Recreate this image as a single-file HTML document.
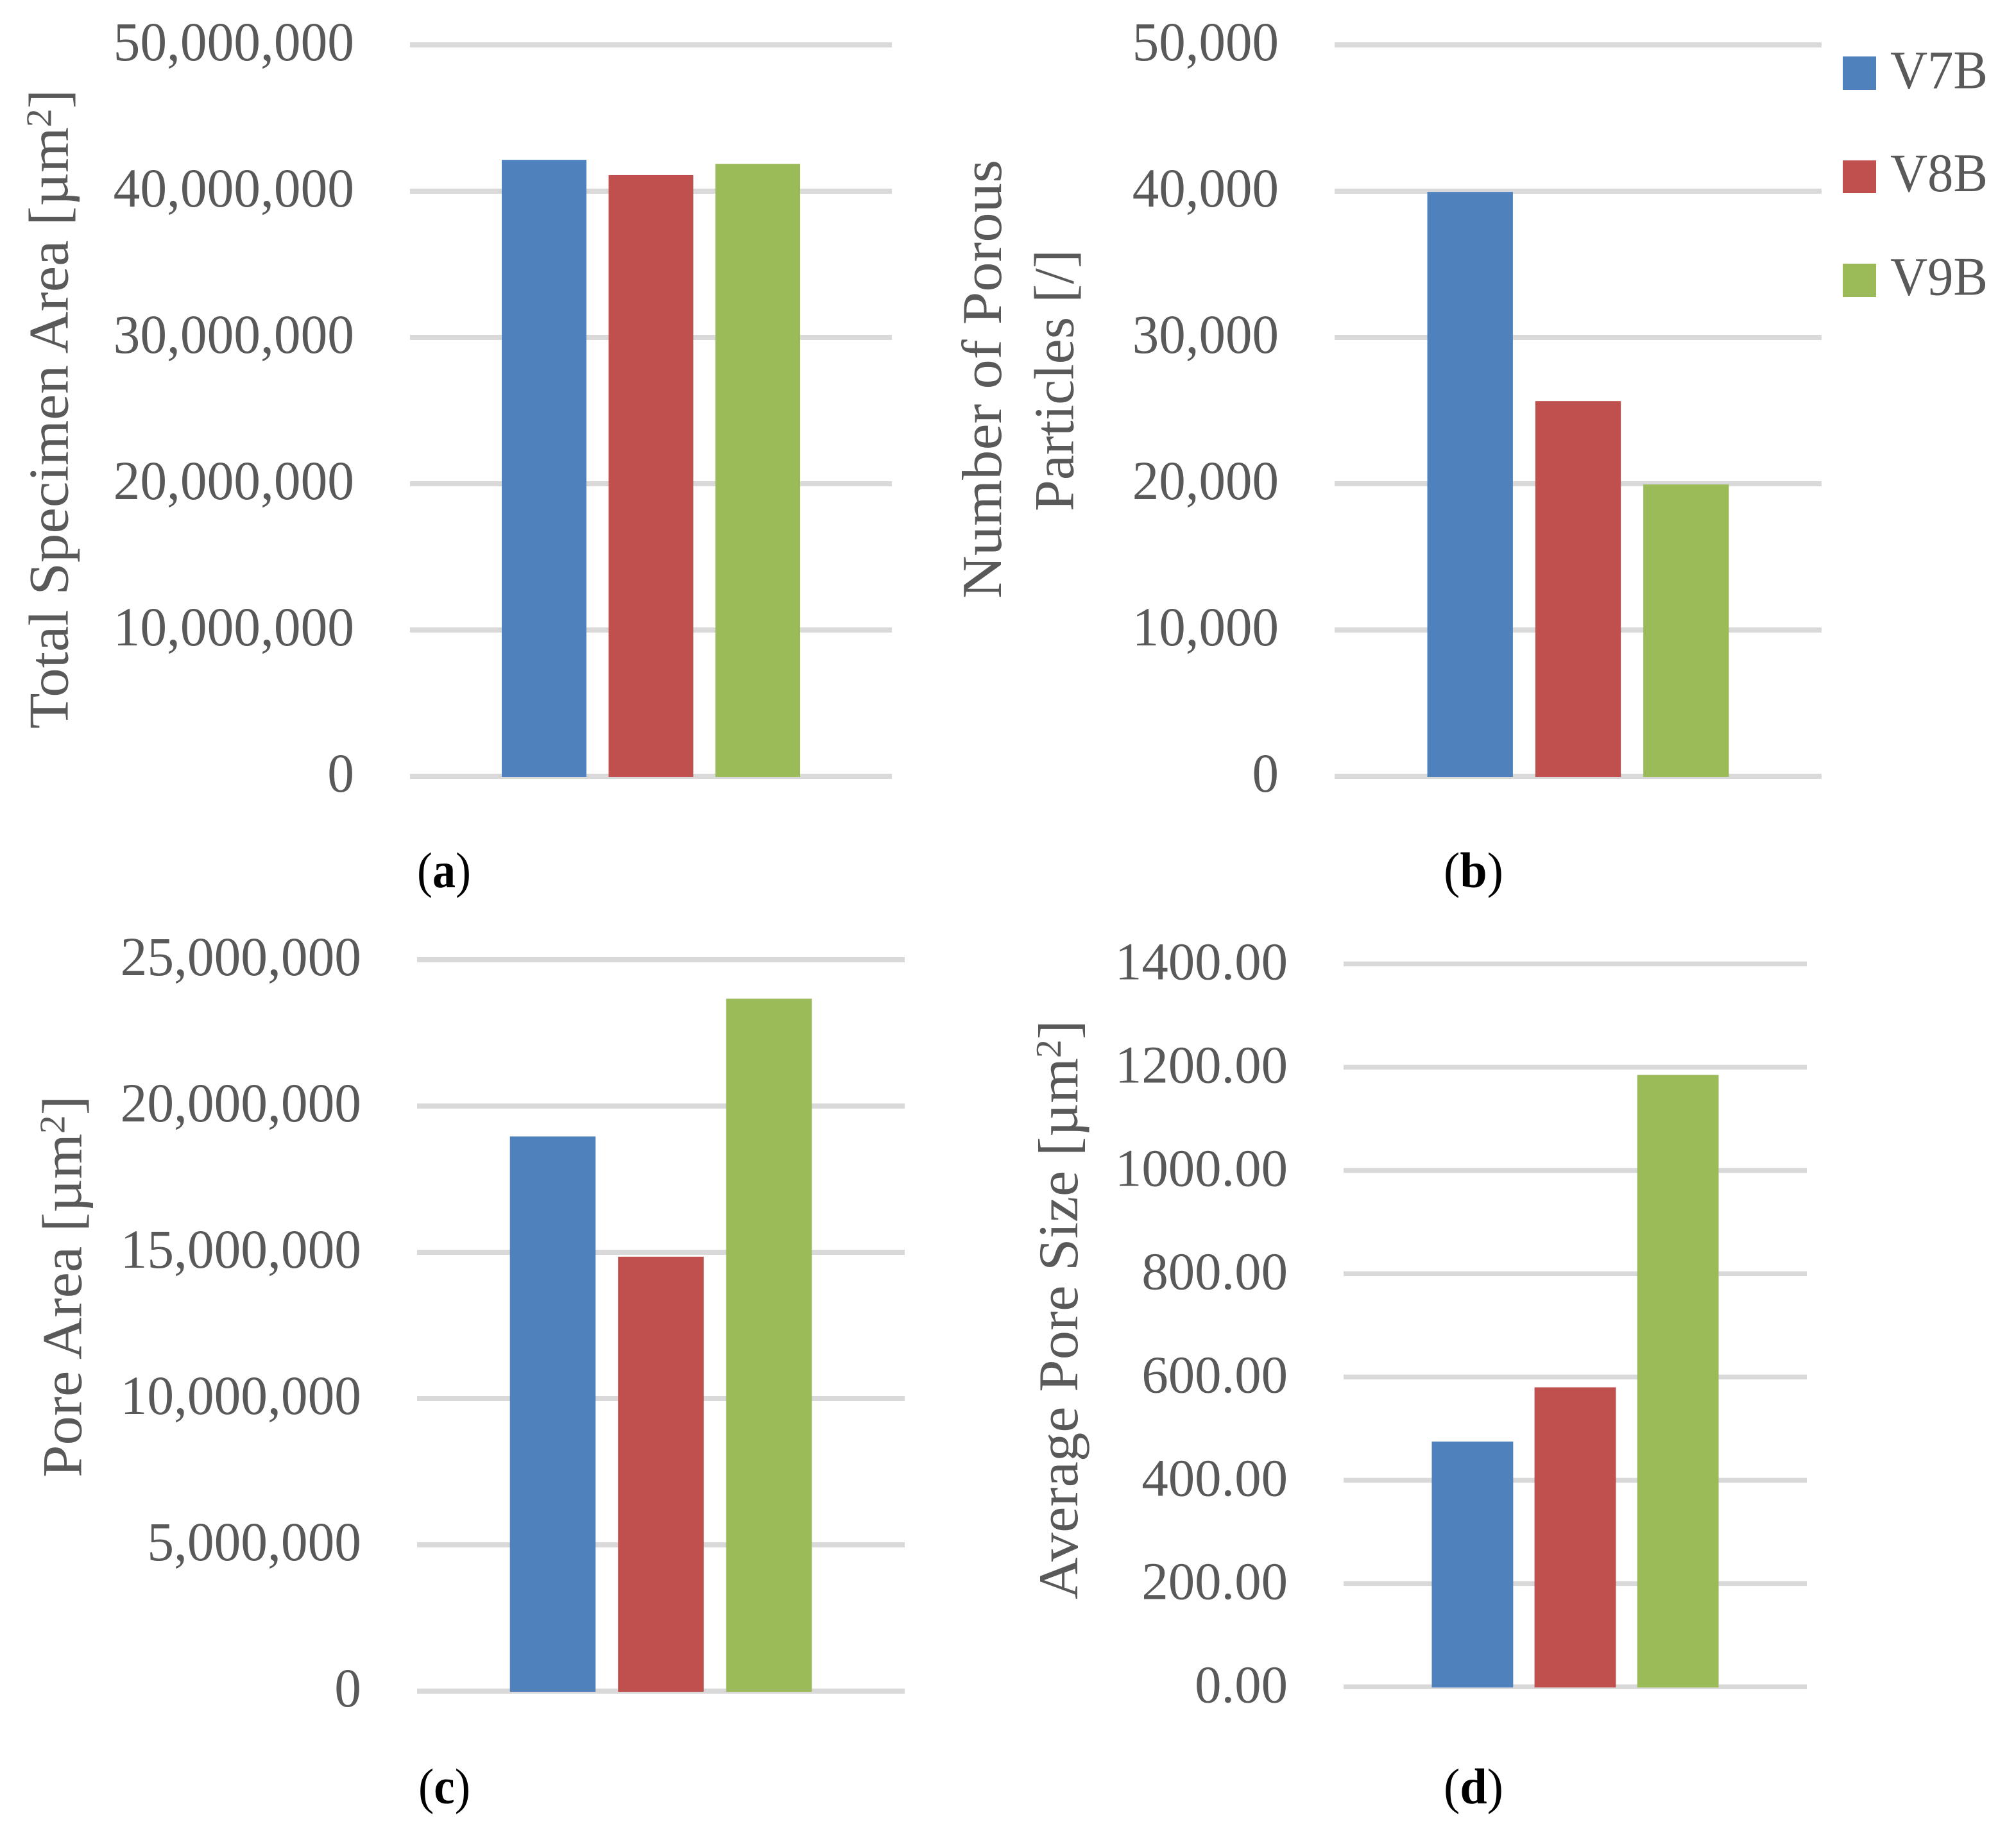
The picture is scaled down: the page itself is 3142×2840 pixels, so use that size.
<!DOCTYPE html>
<html lang="en">
<head>
<meta charset="utf-8">
<title>Specimen area and porosity bar charts</title>
<style>
html,body{margin:0;padding:0;background:#fff;width:3142px;height:2840px;overflow:hidden}
svg{display:block;font-family:"Liberation Serif","DejaVu Serif",serif}
.tick{fill:#595959;text-anchor:end}
.title{font-size:88px;fill:#595959}
.legend{font-size:85px;fill:#595959}
.cap{font-size:78px;fill:#000}
.cap .b{font-weight:bold}
</style>
</head>
<body>
<svg id="figure" xmlns="http://www.w3.org/2000/svg" width="3142" height="2840" viewBox="0 0 3142 2840">
  <rect x="0" y="0" width="3142" height="2840" fill="#ffffff"/>

  <g id="panel-a"></g>
  <g id="panel-b"></g>
  <g id="panel-c"></g>
  <g id="panel-d"></g>

  <text class="title" transform="translate(105.5,1136) rotate(-90)" textLength="997" lengthAdjust="spacingAndGlyphs">Total Specimen Area [µm<tspan font-size="56" dy="-26">2</tspan><tspan dy="26">]</tspan></text>
  <text class="title" transform="translate(1560,933) rotate(-90)" textLength="684" lengthAdjust="spacingAndGlyphs">Number of Porous</text>
  <text class="title" transform="translate(1672.5,797) rotate(-90)" textLength="408" lengthAdjust="spacingAndGlyphs">Particles [/]</text>
  <text class="title" transform="translate(126.5,2303) rotate(-90)" textLength="595" lengthAdjust="spacingAndGlyphs">Pore Area [µm<tspan font-size="56" dy="-26">2</tspan><tspan dy="26">]</tspan></text>
  <text class="title" transform="translate(1679,2493) rotate(-90)" textLength="903" lengthAdjust="spacingAndGlyphs">Average Pore Size [µm<tspan font-size="56" dy="-26">2</tspan><tspan dy="26">]</tspan></text>

  <text class="cap" x="650" y="1383" textLength="84" lengthAdjust="spacingAndGlyphs">(<tspan class="b">a</tspan>)</text>
  <text class="cap" x="2250" y="1383" textLength="93" lengthAdjust="spacingAndGlyphs">(<tspan class="b">b</tspan>)</text>
  <text class="cap" x="652" y="2811" textLength="81" lengthAdjust="spacingAndGlyphs">(<tspan class="b">c</tspan>)</text>
  <text class="cap" x="2250" y="2811" textLength="93" lengthAdjust="spacingAndGlyphs">(<tspan class="b">d</tspan>)</text>

  <g>
    <g>
      <rect x="2872" y="88" width="52" height="52" fill="#4f81bd"/>
      <text class="legend" x="2946" y="137.5" textLength="152" lengthAdjust="spacingAndGlyphs">V7B</text>
    </g>
    <g>
      <rect x="2872" y="250" width="52" height="51" fill="#c0504d"/>
      <text class="legend" x="2946" y="298" textLength="152" lengthAdjust="spacingAndGlyphs">V8B</text>
    </g>
    <g>
      <rect x="2872" y="411" width="52" height="52" fill="#9bbb59"/>
      <text class="legend" x="2946" y="459.5" textLength="152" lengthAdjust="spacingAndGlyphs">V9B</text>
    </g>
  </g>
</svg>

<script>
const categories = ['V7B', 'V8B', 'V9B'];
const seriesColors = ['#4f81bd', '#c0504d', '#9bbb59'];

const panelAValues = [42140000, 41100000, 41860000];
const panelATicks = [0, 10000000, 20000000, 30000000, 40000000, 50000000];
const panelATickLabels = ['0', '10,000,000', '20,000,000', '30,000,000', '40,000,000', '50,000,000'];

const panelBValues = [39950, 25650, 19950];
const panelBTicks = [0, 10000, 20000, 30000, 40000, 50000];
const panelBTickLabels = ['0', '10,000', '20,000', '30,000', '40,000', '50,000'];

const panelCValues = [18960000, 14850000, 23670000];
const panelCTicks = [0, 5000000, 10000000, 15000000, 20000000, 25000000];
const panelCTickLabels = ['0', '5,000,000', '10,000,000', '15,000,000', '20,000,000', '25,000,000'];

const panelDValues = [475, 580, 1185];
const panelDTicks = [0, 200, 400, 600, 800, 1000, 1200, 1400];
const panelDTickLabels = ['0.00', '200.00', '400.00', '600.00', '800.00', '1000.00', '1200.00', '1400.00'];

const SVG_NS = 'http://www.w3.org/2000/svg';

function drawPanel(id, box, values, ticks, tickLabels) {
  const group = document.getElementById(id);
  const axisMax = ticks[ticks.length - 1];
  const yScale = function (v) { return box.bottom - (v / axisMax) * (box.bottom - box.top); };
  const plotWidth = box.right - box.left;
  const barWidth = plotWidth * 0.1757;
  const barStep = barWidth * 1.262;
  const center = (box.left + box.right) / 2;
  const xScale = function (i) { return center + (i - (values.length - 1) / 2) * barStep - barWidth / 2; };

  ticks.forEach(function (tick, i) {
    const line = document.createElementNS(SVG_NS, 'line');
    
    
    line.setAttribute('x1', box.left);
    line.setAttribute('x2', box.right);
    line.setAttribute('y1', yScale(tick));
    line.setAttribute('y2', yScale(tick));
    line.setAttribute('stroke', '#d9d9d9');
    line.setAttribute('stroke-width', box.grid);
    group.appendChild(line);

    const label = document.createElementNS(SVG_NS, 'text');
    
    
    label.setAttribute('class', 'tick');
    label.setAttribute('font-size', box.tickFont);
    label.setAttribute('x', box.left - 87);
    label.setAttribute('y', yScale(tick) + 24);
    label.textContent = tickLabels[i];
    group.appendChild(label);
    label.setAttribute('textLength', label.getComputedTextLength() * box.tickSqueeze);
    label.setAttribute('lengthAdjust', 'spacingAndGlyphs');
  });

  values.forEach(function (value, i) {
    const bar = document.createElementNS(SVG_NS, 'rect');
    
    
    bar.setAttribute('x', xScale(i));
    bar.setAttribute('y', yScale(value));
    bar.setAttribute('width', barWidth);
    bar.setAttribute('height', yScale(0) - yScale(value) + 1);
    bar.setAttribute('fill', seriesColors[i]);
    group.appendChild(bar);
  });
}

drawPanel('panel-a', { left: 639, right: 1390, top: 70, bottom: 1210, grid: 8, tickFont: 86, tickSqueeze: 0.97 }, panelAValues, panelATicks, panelATickLabels);
drawPanel('panel-b', { left: 2080, right: 2839, top: 70, bottom: 1210, grid: 8, tickFont: 86, tickSqueeze: 0.965 }, panelBValues, panelBTicks, panelBTickLabels);
drawPanel('panel-c', { left: 650, right: 1410, top: 1496, bottom: 2636, grid: 8, tickFont: 86, tickSqueeze: 0.97 }, panelCValues, panelCTicks, panelCTickLabels);
drawPanel('panel-d', { left: 2094, right: 2816, top: 1502.5, bottom: 2629.3, grid: 7.5, tickFont: 83, tickSqueeze: 0.9975 }, panelDValues, panelDTicks, panelDTickLabels);
</script>
</body>
</html>
